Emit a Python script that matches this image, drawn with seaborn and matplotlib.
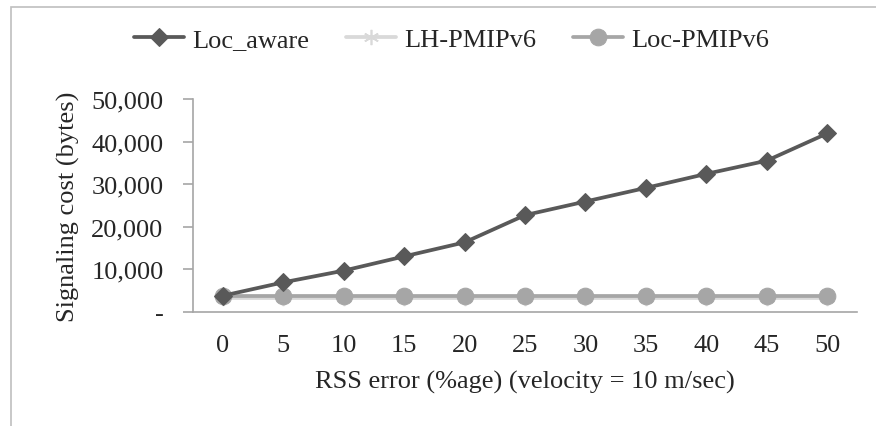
import numpy as np
import pandas as pd
import matplotlib
matplotlib.use("Agg")
import matplotlib.pyplot as plt
import seaborn as sns
from matplotlib.ticker import FuncFormatter, FixedLocator
from matplotlib.patches import Rectangle

# data
rss_error = ["0", "5", "10", "15", "20", "25", "30", "35", "40", "45", "50"]
loc_aware = [3760, 6900, 9650, 13000, 16300, 22700, 25900, 29100, 32400, 35500, 41900]
lh_pmipv6 = [3300] * 11
loc_pmipv6 = [3700] * 11

series_names = ["Loc_aware", "LH-PMIPv6", "Loc-PMIPv6"]
series_colors = ["#595959", "#d9d9d9", "#a6a6a6"]

df = pd.DataFrame({
    "pos": list(range(len(rss_error))) * 3,
    "cost": loc_aware + lh_pmipv6 + loc_pmipv6,
    "series": [n for n in series_names for _ in rss_error],
})

sns.set_theme(style="white")
plt.rcParams["font.family"] = ["Liberation Serif", "DejaVu Serif"]
FS = 19

fig = plt.figure(figsize=(8.76, 4.27), dpi=100)
ax = fig.add_axes([0.22, 0.2677, 0.7587, 0.4981])

styles = {
    "Loc_aware": dict(marker="D", markersize=9),
    "LH-PMIPv6": dict(marker=(6, 2, 0), markersize=11, markeredgewidth=1.2),
    "Loc-PMIPv6": dict(marker="o", markersize=12),
}
# draw the light series first so the others sit on top
for name in ["LH-PMIPv6", "Loc-PMIPv6", "Loc_aware"]:
    color = series_colors[series_names.index(name)]
    sub = df[df["series"] == name]
    sns.lineplot(data=sub, x="pos", y="cost", ax=ax, color=color, linewidth=2.7,
                 markeredgecolor=color, label=name, **styles[name])

ax.set_xlim(-0.5, len(rss_error) - 0.5)
ax.set_ylim(0, 50000)
ax.set_yticks(np.arange(0, 50001, 10000))
ax.yaxis.set_major_formatter(FuncFormatter(lambda v, p: "-" if v == 0 else f"{int(v):,}"))
ax.xaxis.set_major_locator(FixedLocator(range(len(rss_error))))
ax.set_xticklabels(rss_error)
ax.xaxis.set_minor_locator(FixedLocator(np.arange(-0.5, len(rss_error), 1.0)))

axis_gray = "#a6a6a6"
for side in ["top", "right"]:
    ax.spines[side].set_visible(False)
for side in ["left", "bottom"]:
    ax.spines[side].set_color(axis_gray)
    ax.spines[side].set_linewidth(1.2)

ax.tick_params(axis="x", which="major", length=0, pad=16, labelsize=FS)
ax.tick_params(axis="x", which="minor", length=7, width=1.2, color=axis_gray, direction="out")
ax.tick_params(axis="y", which="major", length=7, width=1.2, color=axis_gray, direction="out",
               pad=14, labelsize=FS, left=True)
ax.grid(False)

ax.set_xlabel("RSS error (%age) (velocity = 10 m/sec)", fontsize=FS, labelpad=10)
ax.set_ylabel("Signaling cost (bytes)", fontsize=FS, labelpad=8)

# legend in the order of the reference
handles, labels = ax.get_legend_handles_labels()
order = [labels.index(n) for n in series_names]
ax.legend([handles[i] for i in order], series_names, loc="center",
          bbox_to_anchor=(0.515, 0.906), bbox_transform=fig.transFigure,
          ncol=3, frameon=False, fontsize=FS, handlelength=1.9,
          handletextpad=0.3, columnspacing=1.4)

# chart border like the spreadsheet frame
fig.patches.append(Rectangle((11 / 876, -0.1), 1.2, 1.1 - 8 / 427, transform=fig.transFigure,
                             fill=False, edgecolor="#bfbfbf", linewidth=1.2))

fig.savefig("out.png", dpi=100)
